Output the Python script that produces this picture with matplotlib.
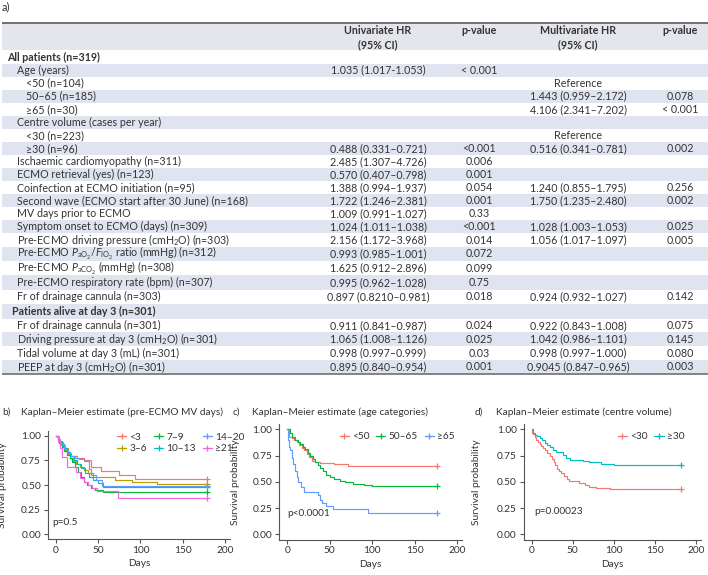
import numpy as np
import matplotlib
matplotlib.use("Agg")
import matplotlib.pyplot as plt
from matplotlib.patches import Rectangle
from matplotlib.lines import Line2D

plt.rcParams['font.family'] = ['Lato', 'DejaVu Sans']
plt.rcParams['mathtext.fontset'] = 'custom'
plt.rcParams['mathtext.rm'] = 'Lato'
plt.rcParams['mathtext.it'] = 'Lato:italic'
plt.rcParams['mathtext.bf'] = 'Lato:bold'

# ---------------- table a) ----------------
row_labels = [
    'All patients (n=319)',
    'Age (years)',
    '<50 (n=104)',
    '50–65 (n=185)',
    '≥65 (n=30)',
    'Centre volume (cases per year)',
    '<30 (n=223)',
    '≥30 (n=96)',
    'Ischaemic cardiomyopathy (n=311)',
    'ECMO retrieval (yes) (n=123)',
    'Coinfection at ECMO initiation (n=95)',
    'Second wave (ECMO start after 30 June) (n=168)',
    'MV days prior to ECMO',
    'Symptom onset to ECMO (days) (n=309)',
    'Pre-ECMO driving pressure (cmH$_2$O) (n=303)',
    r'Pre-ECMO $P_{\mathrm{aO}_2}$/$F_{\mathrm{IO}_2}$ ratio (mmHg) (n=312)',
    r'Pre-ECMO $P_{\mathrm{aCO}_2}$ (mmHg) (n=308)',
    'Pre-ECMO respiratory rate (bpm) (n=307)',
    'Fr of drainage cannula (n=303)',
    'Patients alive at day 3 (n=301)',
    'Fr of drainage cannula (n=301)',
    'Driving pressure at day 3 (cmH$_2$O) (n=301)',
    'Tidal volume at day 3 (mL) (n=301)',
    'PEEP at day 3 (cmH$_2$O) (n=301)',
]
row_level = [0, 1, 2, 2, 2, 1, 2, 2, 1, 1, 1, 1, 1, 1, 1, 1, 1, 1, 1, 0, 1, 1, 1, 1]
uni_hr = ['', '1.035 (1.017-1.053)', '', '', '', '', '', '0.488 (0.331–0.721)',
          '2.485 (1.307–4.726)', '0.570 (0.407–0.798)', '1.388 (0.994–1.937)',
          '1.722 (1.246–2.381)', '1.009 (0.991–1.027)', '1.024 (1.011–1.038)',
          '2.156 (1.172–3.968)', '0.993 (0.985–1.001)', '1.625 (0.912–2.896)',
          '0.995 (0.962–1.028)', '0.897 (0.8210–0.981)', '',
          '0.911 (0.841–0.987)', '1.065 (1.008–1.126)', '0.998 (0.997–0.999)',
          '0.895 (0.840–0.954)']
uni_p = ['', '< 0.001', '', '', '', '', '', '<0.001', '0.006', '0.001', '0.054',
         '0.001', '0.33', '<0.001', '0.014', '0.072', '0.099', '0.75', '0.018', '',
         '0.024', '0.025', '0.03', '0.001']
multi_hr = ['', '', 'Reference', '1.443 (0.959–2.172)', '4.106 (2.341–7.202)', '',
            'Reference', '0.516 (0.341–0.781)', '', '', '1.240 (0.855–1.795)',
            '1.750 (1.235–2.480)', '', '1.028 (1.003–1.053)', '1.056 (1.017–1.097)',
            '', '', '', '0.924 (0.932–1.027)', '', '0.922 (0.843–1.008)',
            '1.042 (0.986–1.101)', '0.998 (0.997–1.000)', '0.9045 (0.847–0.965)']
multi_p = ['', '', '', '0.078', '< 0.001', '', '', '0.002', '', '', '0.256', '0.002',
           '', '0.025', '0.005', '', '', '', '0.142', '', '0.075', '0.145', '0.080',
           '0.003']

# ---------------- Kaplan-Meier curves ----------------
b_labels = ['<3', '3–6', '7–9', '10–13', '14–20', '≥21']
b_t = [
    [0, 2, 5, 8, 11, 14, 17, 25, 33, 41, 53, 74, 94, 179],
    [0, 2, 4, 7, 10, 13, 16, 20, 24, 28, 33, 38, 44, 70, 90, 120, 179],
    [0, 2, 4, 7, 10, 13, 16, 19, 22, 26, 30, 33, 37, 41, 46, 56, 179],
    [0, 2, 4, 7, 10, 13, 17, 21, 25, 29, 34, 39, 44, 50, 56, 179],
    [0, 3, 6, 10, 14, 18, 22, 27, 33, 39, 42, 47, 55, 179],
    [0, 2, 5, 7, 13, 24, 28, 33, 38, 43, 48, 73, 179],
]
b_s = [
    [1.0, 0.97, 0.94, 0.91, 0.88, 0.84, 0.80, 0.78, 0.755, 0.68, 0.64, 0.60, 0.56, 0.56],
    [1.0, 0.97, 0.94, 0.90, 0.86, 0.82, 0.78, 0.74, 0.71, 0.68, 0.65, 0.62, 0.585, 0.55, 0.53, 0.507, 0.507],
    [1.0, 0.96, 0.93, 0.89, 0.85, 0.81, 0.77, 0.73, 0.68, 0.63, 0.58, 0.53, 0.50, 0.47, 0.45, 0.426, 0.426],
    [1.0, 0.97, 0.95, 0.92, 0.88, 0.84, 0.80, 0.75, 0.71, 0.67, 0.62, 0.58, 0.55, 0.52, 0.483, 0.483],
    [1.0, 0.95, 0.91, 0.87, 0.83, 0.80, 0.77, 0.76, 0.74, 0.66, 0.60, 0.55, 0.49, 0.49],
    [1.0, 0.94, 0.88, 0.79, 0.68, 0.63, 0.57, 0.53, 0.50, 0.47, 0.44, 0.37, 0.37],
]

c_labels = ['<50', '50–65', '≥65']
c_t = [
    [0, 2, 5, 8, 11, 14, 17, 20, 23, 26, 29, 33, 38, 55, 71, 177],
    [0, 3, 6, 9, 12, 15, 18, 21, 24, 27, 30, 33, 36, 39, 42, 45, 50, 55, 62, 68, 78, 90, 100, 135, 177],
    [0, 1, 2, 3, 5, 7, 9, 11, 13, 16, 20, 36, 38, 41, 45, 54, 95, 177],
]
c_s = [
    [1.0, 0.93, 0.92, 0.90, 0.88, 0.85, 0.82, 0.80, 0.77, 0.74, 0.70, 0.685, 0.68, 0.67, 0.648, 0.648],
    [1.0, 0.97, 0.93, 0.90, 0.88, 0.86, 0.83, 0.81, 0.78, 0.75, 0.72, 0.69, 0.66, 0.63, 0.60, 0.565, 0.55, 0.53, 0.51, 0.495, 0.48, 0.47, 0.465, 0.46, 0.46],
    [1.0, 0.90, 0.83, 0.80, 0.73, 0.67, 0.60, 0.55, 0.50, 0.45, 0.40, 0.37, 0.33, 0.30, 0.27, 0.24, 0.205, 0.205],
]

d_labels = ['<30', '≥30']
d_t = [
    [0, 1, 2, 4, 6, 8, 10, 12, 14, 16, 19, 22, 25, 27, 29, 31, 33, 36, 40, 43, 46, 58, 65, 70, 78, 96, 182],
    [0, 2, 4, 7, 10, 13, 16, 19, 22, 26, 30, 38, 42, 47, 62, 70, 85, 100, 182],
]
d_s = [
    [1.0, 0.97, 0.955, 0.93, 0.90, 0.88, 0.86, 0.84, 0.82, 0.80, 0.78, 0.75, 0.72, 0.69, 0.66, 0.62, 0.60, 0.58, 0.56, 0.53, 0.51, 0.49, 0.47, 0.455, 0.44, 0.43, 0.43],
    [1.0, 0.97, 0.95, 0.94, 0.92, 0.90, 0.87, 0.85, 0.83, 0.80, 0.785, 0.76, 0.73, 0.71, 0.70, 0.685, 0.67, 0.66, 0.66],
]

W, H = 708, 575
fig = plt.figure(figsize=(W / 100, H / 100), dpi=100)

txt = '#333333'
band = '#dfe4f0'
head = '#e4e6ec'
fs = 7.7
kfs = 7.3

tab = fig.add_axes([0, 0, 1, 1])
tab.set_xlim(0, W)
tab.set_ylim(H, 0)
tab.axis('off')

tab.text(2, 7, 'a)', fontsize=7.8, color=txt, va='center', ha='left')

# header
top, head_bot = 23.3, 50.5
tab.add_patch(Rectangle((2, top), W - 2, head_bot - top, color=head, lw=0))
tab.plot([2, W], [top, top], color='#707070', lw=1.4, solid_capstyle='butt')
col_x = [378, 479, 578, 680]
tab.text(col_x[0], 37.5, 'Univariate HR\n(95% CI)', ha='center', va='center', fontsize=fs,
         color=txt, weight='bold', linespacing=1.35)
tab.text(col_x[1], 31, 'p-value', ha='center', va='center', fontsize=fs, color=txt, weight='bold')
tab.text(col_x[2], 37.5, 'Multivariate HR\n(95% CI)', ha='center', va='center', fontsize=fs,
         color=txt, weight='bold', linespacing=1.35)
tab.text(col_x[3], 31, 'p-value', ha='center', va='center', fontsize=fs, color=txt, weight='bold')

heights = [13.07] * 15 + [14.4] * 5 + [13.8] * 4
edges = head_bot + np.concatenate([[0], np.cumsum(heights)])
indent = {0: 7.5, 1: 17, 2: 26}
for i, lab in enumerate(row_labels):
    y0, y1 = edges[i], edges[i + 1]
    yc = (y0 + y1) / 2
    if i % 2 == 1:
        tab.add_patch(Rectangle((2, y0), W - 2, y1 - y0, color=band, lw=0))
    lvl = row_level[i]
    x0 = indent[lvl] if not (lvl == 0 and i > 0) else 12
    tab.text(x0, yc, lab, ha='left', va='center', fontsize=fs, color=txt,
             weight='bold' if lvl == 0 else 'normal')
    for cx, val in zip(col_x, [uni_hr[i], uni_p[i], multi_hr[i], multi_p[i]]):
        if val:
            tab.text(cx, yc, val, ha='center', va='center', fontsize=fs, color=txt)
tab.plot([2, W], [edges[-1], edges[-1]], color='#707070', lw=1.2, solid_capstyle='butt')

# ---------------- KM panels ----------------
gg = {'red': '#F8766D', 'olive': '#B79F00', 'green': '#00BA38',
      'cyan': '#00BFC4', 'blue': '#619CFF', 'pink': '#F564E3'}


def px_rect(x0, x1, ytop, ybot):
    return [x0 / W, 1 - ybot / H, (x1 - x0) / W, (ybot - ytop) / H]


def km_panel(rect, ts, ss, labels, colors, letter, title, ptxt, pxy, leg_anchor, ncol,
             letter_x, title_x, ylab_x):
    ax = fig.add_axes(px_rect(*rect))
    for t, s, c in zip(ts, ss, colors):
        ax.step(t, s, where='post', color=c, lw=0.85)
        ax.plot(t[-1], s[-1], '+', color=c, ms=4, mew=0.9)
    handles = [Line2D([], [], color=c, lw=0.85, marker='+', ms=4, mew=0.9) for c in colors]
    ax.legend(handles, labels, ncol=ncol, loc='upper left', bbox_to_anchor=leg_anchor,
              frameon=False, fontsize=kfs, handlelength=0.9, handletextpad=0.3,
              columnspacing=0.7, labelspacing=0.25, borderpad=0, borderaxespad=0,
              labelcolor=txt)
    ax.set_xlim(-9.5, 206)
    ax.set_ylim(-0.05, 1.05)
    ax.set_xticks([0, 50, 100, 150, 200])
    ax.set_yticks([0, 0.25, 0.5, 0.75, 1.0])
    ax.set_yticklabels(['0.00', '0.25', '0.50', '0.75', '1.00'])
    for sp in ['top', 'right']:
        ax.spines[sp].set_visible(False)
    for sp in ['left', 'bottom']:
        ax.spines[sp].set_color('#555555')
        ax.spines[sp].set_linewidth(0.8)
    ax.tick_params(length=3, width=0.8, color='#555555', labelsize=kfs, labelcolor=txt, pad=2)
    ax.text(pxy[0], pxy[1], ptxt, fontsize=kfs, color=txt, ha='left', va='center')
    ax.set_xlabel('Days', fontsize=kfs, color=txt, labelpad=3)
    ax.set_ylabel('Survival probability', fontsize=kfs, color=txt)
    ax.yaxis.set_label_coords((ylab_x - rect[0]) / (rect[1] - rect[0]), 0.5)
    fig.text(letter_x / W, 1 - 412.5 / H, letter, fontsize=kfs, color=txt, va='center')
    fig.text(title_x / W, 1 - 412.5 / H, title, fontsize=kfs, color=txt, va='center')
    return ax


km_panel((48, 230, 431, 539), b_t, b_s, b_labels,
         [gg['red'], gg['olive'], gg['green'], gg['cyan'], gg['blue'], gg['pink']],
         'b)', 'Kaplan–Meier estimate (pre-ECMO MV days)', 'p=0.5', (-4.5, 0.115),
         (0.38, 0.985), 3, 2, 21, 7.5)
km_panel((279.3, 462, 424.2, 539.5), c_t, c_s, c_labels,
         [gg['red'], gg['green'], gg['blue']],
         'c)', 'Kaplan–Meier estimate (age categories)', 'p<0.0001', (-0.7, 0.20),
         (0.33, 0.93), 3, 233, 251.5, 240)
km_panel((523.7, 701, 424.2, 539.5), d_t, d_s, d_labels,
         [gg['red'], gg['cyan']],
         'd)', 'Kaplan–Meier estimate (centre volume)', 'p=0.00023', (3, 0.215),
         (0.53, 0.93), 2, 475, 496.5, 481)

fig.savefig('out.png', dpi=100)
